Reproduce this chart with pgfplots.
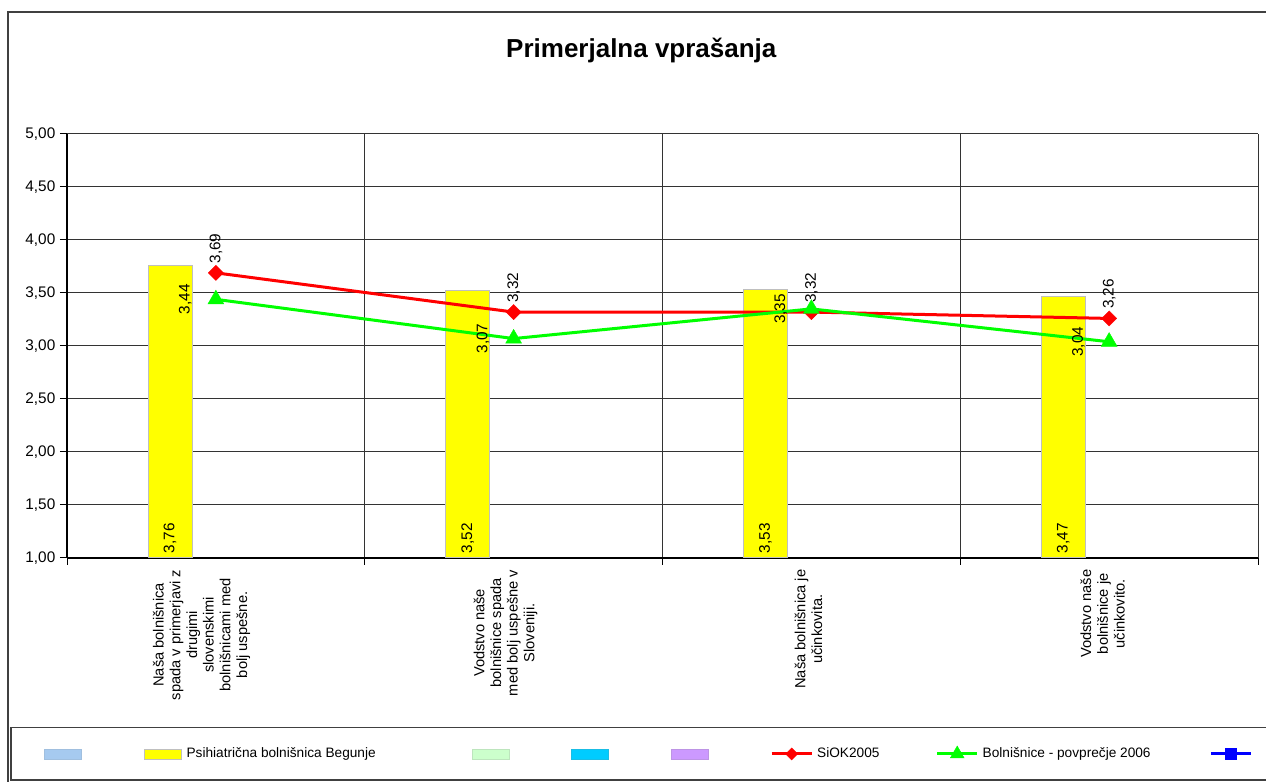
\documentclass[border=0pt]{standalone}
\usepackage{pgfplots}
\pgfplotsset{compat=1.18}
\usepackage{graphicx}
\usepackage{fontspec}
\setmainfont{Liberation Sans}
\definecolor{lblue}{HTML}{A6CAF0}
\definecolor{ylw}{HTML}{FFFF00}
\definecolor{lgreen}{HTML}{CCFFCC}
\definecolor{cyanx}{HTML}{00CCFF}
\definecolor{lav}{HTML}{CC99FF}
\definecolor{redx}{HTML}{FF0000}
\definecolor{greenx}{HTML}{00FF00}
\definecolor{bluex}{HTML}{0000FF}
\definecolor{framec}{HTML}{404040}
\newcommand{\lbl}{\fontsize{11.5}{14}\selectfont}
\newcommand{\xlbl}{\fontsize{11}{12.5}\selectfont}
\newcommand{\nn}{\pgfmathprintnumber[fixed,fixed zerofill,precision=2,use comma,assume math mode=true]{\pgfplotspointmeta}}
\pgfplotsset{
 boxlegend/.style={legend image code/.code={\draw[##1] (0pt,-3.75pt) rectangle (27.75pt,3.75pt);}},
 linelegend/.style={legend image code/.code={\draw[mark repeat=2,mark phase=2,##1] plot coordinates {(0pt,0pt) (15pt,0pt) (30pt,0pt)};}},
}
\begin{document}
\begin{tikzpicture}
\useasboundingbox (0,0) rectangle (949.5pt,585.75pt);
\draw[framec, line width=1.1pt] (6pt,-5pt) rectangle (960pt,576.75pt);
\draw[framec, line width=1.1pt] (8.25pt,0.75pt) rectangle (960pt,40pt);
\node[anchor=base, font=\fontsize{19.5}{22}\selectfont\bfseries] at (481pt,542.25pt) {Primerjalna vprašanja};
\begin{axis}[
 at={(50.25pt,167.25pt)}, anchor=south west,
 scale only axis, width=893.25pt, height=318pt,
 xmin=0, xmax=4, ymin=1, ymax=5,
 axis x line*=bottom, axis y line*=left,
 axis line style={black, line width=0.9pt},
 tick align=outside,
 major tick length=5.25pt, minor tick length=5.25pt,
 tick style={black, line width=0.75pt},
 ytick={1,1.5,2,2.5,3,3.5,4,4.5,5},
 ymajorgrids,
 major grid style={black!80, line width=0.75pt},
 minor grid style={black!80, line width=0.75pt},
 xtick={0.452,1.473,2.490,3.478},
 major x tick style={draw=none},
 minor xtick={0,1,2,3,4},
 xminorgrids,
 xticklabels={{Naša bolnišnica\\spada v primerjavi z\\drugimi\\slovenskimi\\bolnišnicami med\\bolj uspešne.},
   {Vodstvo naše\\bolnišnice spada\\med bolj uspešne v\\Sloveniji.},
   {Naša bolnišnica je\\učinkovita.},
   {Vodstvo naše\\bolnišnice je\\učinkovito.}},
 xticklabel style={rotate=90, anchor=east, align=center, font=\xlbl},
 scaled y ticks=false,
 yticklabel style={font=\lbl, /pgf/number format/.cd, fixed, fixed zerofill, precision=2, use comma},
 /pgf/number format/assume math mode=true,
 legend columns=8,
 legend style={at={(-0.01931,-0.4599)}, anchor=west, draw=none, fill=none, inner sep=0pt, outer sep=0pt, column sep=0pt, font=\fontsize{10.25}{12}\selectfont, nodes={inner sep=0pt}},
]
\addplot[ybar, bar width=0.1478, bar shift=0pt, fill=ylw, draw=gray!50, line width=0.75pt, forget plot]
 coordinates {(0.346,3.76) (1.346,3.52) (2.346,3.53) (3.346,3.47)};
\addplot[draw=none, forget plot, point meta=explicit, nodes near coords=\nn,
 every node near coord/.append style={font=\lbl, text=black, rotate=90, anchor=west, inner xsep=3.5pt}]
 coordinates {(0.346,1) [3.76] (1.346,1) [3.52] (2.346,1) [3.53] (3.346,1) [3.47]};
\addplot[redx, line width=2.25pt, mark=square*, mark size=4pt, mark options={rotate=45, line width=0.3pt, fill=redx}, forget plot,
 nodes near coords=\nn,
 every node near coord/.append style={font=\lbl, text=black, rotate=90, anchor=west, inner xsep=7pt}]
 coordinates {(0.5,3.69) (1.5,3.32) (2.5,3.32) (3.5,3.26)};
\addplot[greenx, line width=2.25pt, mark=triangle*, mark size=6.9pt, mark options={line width=0.3pt, fill=greenx}, forget plot,
 nodes near coords=\nn,
 every node near coord/.append style={font=\lbl, text=black, xshift=-23pt, rotate=90, anchor=center}]
 coordinates {(0.5,3.44) (1.5,3.07) (2.5,3.35) (3.5,3.04)};
\addlegendimage{boxlegend, fill=lblue, draw=lblue!85!gray}
\addlegendentry{\makebox[46.9pt][l]{}}
\addlegendimage{boxlegend, fill=ylw, draw=gray!50}
\addlegendentry{\makebox[217.9pt][l]{\hspace{3.75pt}Psihiatrična bolnišnica Begunje}}
\addlegendimage{boxlegend, fill=lgreen, draw=lgreen!80!gray}
\addlegendentry{\makebox[46.1pt][l]{}}
\addlegendimage{boxlegend, fill=cyanx, draw=cyanx!80!gray}
\addlegendentry{\makebox[46.9pt][l]{}}
\addlegendimage{boxlegend, fill=lav, draw=lav!80!gray}
\addlegendentry{\makebox[46.1pt][l]{}}
\addlegendimage{linelegend, redx, line width=2.25pt, mark=square*, mark size=3.2pt, mark options={rotate=45, line width=0.3pt}}
\addlegendentry{\makebox[91.9pt][l]{\hspace{3pt}SiOK2005}}
\addlegendimage{linelegend, greenx, line width=2.25pt, mark=triangle*, mark size=6pt, mark options={line width=0.3pt}}
\addlegendentry{\makebox[172.9pt][l]{\hspace{3pt}Bolnišnice - povprečje 2006}}
\addlegendimage{linelegend, bluex, line width=2.25pt, mark=square*, mark size=4pt, mark options={line width=0.3pt}}
\addlegendentry{\makebox[0pt][l]{}}
\end{axis}
\end{tikzpicture}
\end{document}
